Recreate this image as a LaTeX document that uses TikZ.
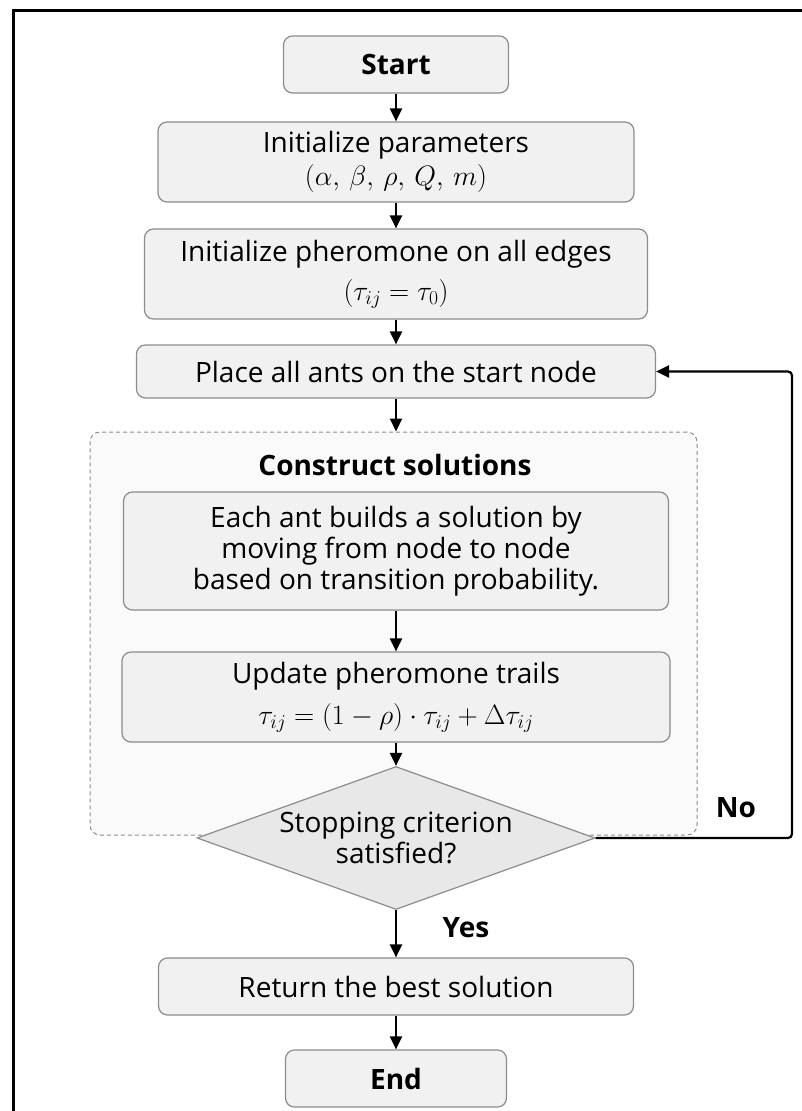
\documentclass[tikz,border=0pt]{standalone}
\usepackage{fix-cm}
\usepackage{fontspec}
\setmainfont{Open Sans}
\usetikzlibrary{shapes.geometric,arrows.meta}
\newlength{\du}
\setlength{\du}{10pt}
\newcommand{\flowfont}{\fontsize{28}{31}\selectfont}
\definecolor{boxline}{rgb}{0.550000, 0.550000, 0.550000}
\definecolor{boxfill}{rgb}{0.945000, 0.945000, 0.945000}
\definecolor{groupfill}{rgb}{0.980000, 0.980000, 0.980000}
\definecolor{decisionfill}{rgb}{0.910000, 0.910000, 0.910000}
\tikzset{
  procbox/.style={draw=boxline, fill=boxfill, line width=1.2pt, rounded corners=9pt, align=center, inner sep=0pt},
  groupbox/.style={draw=boxline, fill=groupfill, line width=1pt, dash pattern=on 4pt off 3pt, rounded corners=10pt, inner sep=0pt},
  decision/.style={diamond, shape aspect=2.8, draw=boxline, fill=decisionfill, line width=1.2pt, align=center, inner sep=0pt},
  flowarrow/.style={-{Triangle[length=13pt,width=12pt]}, line width=2.2pt, draw=black},
  looparrow/.style={flowarrow, rounded corners=4pt},
  boldtext/.style={font=\flowfont\bfseries},
}
\begin{document}
\begin{tikzpicture}[font=\flowfont]
\pgftransformxscale{1.000000}
\pgftransformyscale{-1.000000}
\useasboundingbox (0\du,0\du) rectangle (80.200000\du,111.100000\du);
% outer frame
\draw[line width=3pt] (1.300000\du,112.000000\du)--(1.300000\du,1.000000\du)--(81.000000\du,1.000000\du);
% dashed group of the construction step
\node[groupbox, minimum width=60.700000\du, minimum height=40.300000\du] (group) at (39.350000\du,63.350000\du){};
\node[boldtext] (grouptitle) at (39.500000\du,46.500000\du){Construct solutions};
% process boxes
\node[procbox, boldtext, minimum width=22.500000\du, minimum height=5.700000\du] (start) at (39.600000\du,6.450000\du){Start};
\node[procbox, minimum width=47.600000\du, minimum height=8.000000\du] (params) at (39.600000\du,16.200000\du){Initialize parameters\\[2pt]$(\alpha,\,\beta,\,\rho,\,Q,\,m)$};
\node[procbox, minimum width=50.300000\du, minimum height=9.000000\du] (pherom) at (39.600000\du,27.400000\du){Initialize pheromone on all edges\\[8pt]$(\tau_{ij}=\tau_0)$};
\node[procbox, minimum width=51.900000\du, minimum height=5.300000\du] (place) at (39.600000\du,37.150000\du){Place all ants on the start node};
\node[procbox, minimum width=54.500000\du, minimum height=11.800000\du] (eachant) at (39.600000\du,55.100000\du){Each ant builds a solution by\\moving from node to node\\based on transition probability.};
\node[procbox, minimum width=54.800000\du, minimum height=9.000000\du] (update) at (39.600000\du,69.700000\du){Update pheromone trails\\[10pt]$\tau_{ij}=(1-\rho)\cdot\tau_{ij}+\Delta\tau_{ij}$};
% decision
\node[decision, minimum width=39.800000\du, minimum height=14.300000\du] (stop) at (39.600000\du,83.800000\du){Stopping criterion\\satisfied?};
\node[procbox, minimum width=47.500000\du, minimum height=5.700000\du] (ret) at (39.600000\du,98.650000\du){Return the best solution};
\node[procbox, boldtext, minimum width=22.100000\du, minimum height=5.700000\du] (end) at (39.600000\du,107.850000\du){End};
% connectors
\draw[flowarrow] (start)--(params);
\draw[flowarrow] (params)--(pherom);
\draw[flowarrow] (pherom)--(place);
\draw[flowarrow] (place.south)--(place.south|-group.north);
\draw[flowarrow] (eachant)--(update);
\draw[flowarrow] (update)--(stop);
\draw[flowarrow] (stop)--(ret);
\draw[flowarrow] (ret)--(end);
% loop back
\coordinate (loopright) at (79.200000\du,37.150000\du);
\draw[looparrow] (stop.east)-|(loopright)--(place.east);
% edge labels
\node[boldtext] (nolabel) at (73.600000\du,80.800000\du){No};
\node[boldtext] (yeslabel) at (46.600000\du,92.800000\du){Yes};
\end{tikzpicture}
\end{document}
